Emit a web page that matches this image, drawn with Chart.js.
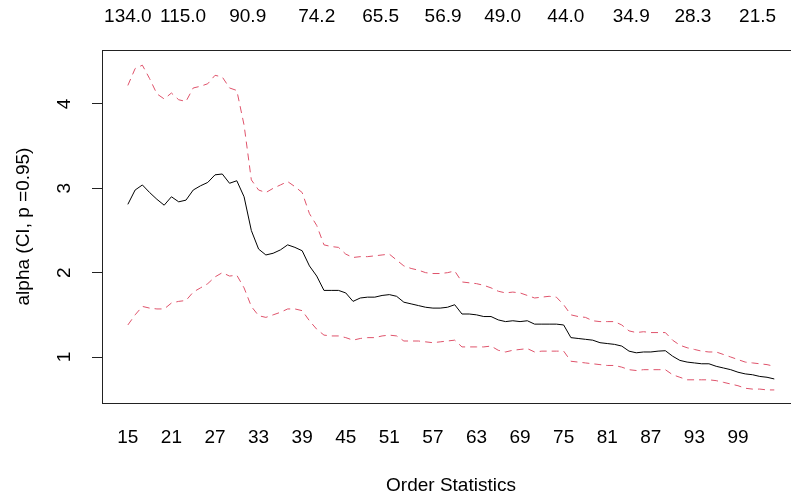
<!DOCTYPE html>
<html>
<head>
<meta charset="utf-8">
<script src="https://cdn.jsdelivr.net/npm/chart.js@4.4.1/dist/chart.umd.min.js"></script>
<style>
  html, body { margin: 0; padding: 0; background: #fff; overflow: hidden; }
  canvas { display: block; }
</style>
</head>
<body>
<canvas id="hillChart" width="791" height="502"></canvas>
<script>
// Hill plot: alpha estimate with 95% CI vs order statistics
const orderStats = [];
for (let k = 15; k <= 104; k++) orderStats.push(k);

const alphaHat = [
  2.81, 2.98, 3.04, 2.95, 2.87, 2.80, 2.90, 2.84, 2.86, 2.98,
  3.03, 3.07, 3.16, 3.17, 3.06, 3.09, 2.90, 2.50, 2.28, 2.21,
  2.23, 2.27, 2.33, 2.30, 2.26, 2.08, 1.96, 1.79, 1.79, 1.79,
  1.76, 1.66, 1.70, 1.71, 1.71, 1.73, 1.74, 1.72, 1.65, 1.63,
  1.61, 1.59, 1.58, 1.58, 1.59, 1.62, 1.51, 1.51, 1.50, 1.48,
  1.48, 1.44, 1.42, 1.43, 1.42, 1.43, 1.39, 1.39, 1.39, 1.39,
  1.38, 1.23, 1.22, 1.21, 1.20, 1.17, 1.16, 1.15, 1.13, 1.07,
  1.05, 1.06, 1.06, 1.07, 1.075, 1.01, 0.96, 0.94, 0.93, 0.92,
  0.92, 0.89, 0.87, 0.85, 0.82, 0.80, 0.79, 0.77, 0.76, 0.74
];

const ciUpper = [
  4.22, 4.42, 4.46, 4.30, 4.12, 4.06, 4.13, 4.05, 4.03, 4.19,
  4.21, 4.24, 4.34, 4.32, 4.19, 4.16, 3.75, 3.10, 2.98, 2.95,
  3.00, 3.04, 3.08, 3.02, 2.95, 2.70, 2.56, 2.33, 2.31, 2.30,
  2.22, 2.18, 2.19, 2.19, 2.20, 2.21, 2.22, 2.15, 2.08, 2.05,
  2.03, 2.00, 1.99, 1.99, 2.00, 2.02, 1.89, 1.88, 1.87, 1.85,
  1.82, 1.78, 1.76, 1.77, 1.76, 1.73, 1.70, 1.71, 1.72, 1.71,
  1.62, 1.50, 1.48, 1.47, 1.43, 1.42, 1.42, 1.42, 1.38, 1.31,
  1.29, 1.30, 1.29, 1.29, 1.29, 1.20, 1.14, 1.11, 1.09, 1.07,
  1.06, 1.06, 1.03, 1.00, 0.97, 0.94, 0.93, 0.92, 0.91, 0.89
];

const ciLower = [
  1.38, 1.50, 1.60, 1.58, 1.57, 1.57, 1.64, 1.66, 1.67, 1.77,
  1.82, 1.87, 1.95, 2.00, 1.96, 1.97, 1.82, 1.60, 1.49, 1.47,
  1.50, 1.53, 1.57, 1.57, 1.55, 1.43, 1.33, 1.26, 1.25, 1.25,
  1.23, 1.20, 1.22, 1.23, 1.23, 1.25, 1.26, 1.25, 1.19, 1.19,
  1.19, 1.18, 1.17, 1.18, 1.19, 1.20, 1.12, 1.12, 1.12, 1.12,
  1.13, 1.08, 1.06, 1.08, 1.09, 1.10, 1.06, 1.07, 1.07, 1.07,
  1.07, 0.95, 0.94, 0.93, 0.92, 0.91, 0.90, 0.90, 0.88, 0.85,
  0.84, 0.85, 0.85, 0.85, 0.85, 0.79, 0.76, 0.73, 0.73, 0.73,
  0.73, 0.72, 0.70, 0.68, 0.66, 0.63, 0.62, 0.62, 0.61, 0.61
];

const bottomTicks = [15, 21, 27, 33, 39, 45, 51, 57, 63, 69, 75, 81, 87, 93, 99];
const yTicks = [1, 2, 3, 4];
// threshold labels along the top axis, and the order statistic each sits over
const topTickPos = [15, 22.6, 31.5, 41, 49.8, 58.4, 66.6, 75.3, 84.3, 92.8, 101.7];
const topTickLabels = ['134.0', '115.0', '90.9', '74.2', '65.5', '56.9', '49.0', '44.0', '34.9', '28.3', '21.5'];

const ink = '#000';
const axisColor = '#222';
const ciColor = '#DF536B';
const font = '"Liberation Sans", Arial, sans-serif';

const toPoints = arr => arr.map((v, i) => ({ x: orderStats[i], y: v }));

// R-style text: tick labels, top thresholds, axis titles
const rText = {
  id: 'rText',
  afterDraw(chart) {
    const { ctx, chartArea, scales } = chart;
    const x = scales.x, y = scales.y;
    ctx.save();
    ctx.fillStyle = ink;
    ctx.font = '19px ' + font;
    ctx.textAlign = 'center';
    ctx.textBaseline = 'middle';

    bottomTicks.forEach(v => ctx.fillText(String(v), x.getPixelForValue(v), 438));
    topTickPos.forEach((v, i) => ctx.fillText(topTickLabels[i], x.getPixelForValue(v), 17));
    ctx.fillText('Order Statistics', 451, 486);

    yTicks.forEach(v => {
      ctx.save();
      ctx.translate(65, y.getPixelForValue(v));
      ctx.rotate(-Math.PI / 2);
      ctx.fillText(String(v), 0, 0);
      ctx.restore();
    });

    ctx.save();
    ctx.translate(24, (chartArea.top + chartArea.bottom) / 2);
    ctx.rotate(-Math.PI / 2);
    ctx.fillText('alpha (CI, p =0.95)', 0, 0);
    ctx.restore();

    ctx.restore();
  }
};

new Chart(document.getElementById('hillChart'), {
  type: 'line',
  data: {
    datasets: [
      {
        label: 'alpha',
        data: toPoints(alphaHat),
        borderColor: ink,
        borderWidth: 1,
        pointRadius: 0,
        tension: 0,
      },
      {
        label: 'upper',
        data: toPoints(ciUpper),
        borderColor: ciColor,
        borderWidth: 1,
        borderDash: [7, 5],
        pointRadius: 0,
        tension: 0,
      },
      {
        label: 'lower',
        data: toPoints(ciLower),
        borderColor: ciColor,
        borderWidth: 1,
        borderDash: [7, 5],
        pointRadius: 0,
        tension: 0,
      }
    ]
  },
  options: {
    responsive: false,
    animation: false,
    events: [],
    layout: { padding: { left: 92, top: 50, right: 0, bottom: 99 } },
    plugins: { legend: { display: false }, tooltip: { enabled: false } },
    scales: {
      x: {
        type: 'linear',
        position: 'bottom',
        min: 11.44,
        max: 106.3,
        ticks: { display: false },
        grid: { display: true, drawOnChartArea: false, drawTicks: false },
        border: { display: true, color: axisColor, width: 1 }
      },
      x2: {
        type: 'linear',
        position: 'top',
        min: 11.44,
        max: 106.3,
        ticks: { display: false },
        grid: { display: true, drawOnChartArea: false, drawTicks: false },
        border: { display: true, color: axisColor, width: 1 }
      },
      y: {
        type: 'linear',
        min: 0.455,
        max: 4.64,
        afterBuildTicks: scale => { scale.ticks = yTicks.map(v => ({ value: v })); },
        ticks: { display: false },
        grid: { display: true, drawOnChartArea: false, drawTicks: true, tickLength: 10, color: axisColor },
        border: { display: true, color: axisColor, width: 1 }
      }
    }
  },
  plugins: [rText]
});
</script>
</body>
</html>
